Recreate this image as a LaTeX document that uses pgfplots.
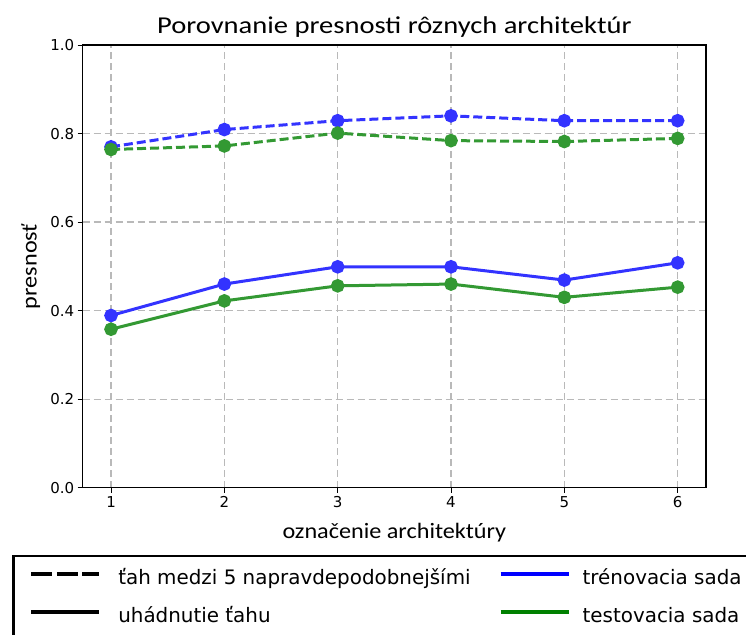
\documentclass[border=0pt]{standalone}
\usepackage{pgfplots}
\pgfplotsset{compat=1.18}
\usepackage{fontspec}
\setmainfont{DejaVu Sans}
\newfontfamily\labfont[FakeStretch=1.1]{Carlito}
\newfontfamily\titlefont[FakeStretch=1.18]{Carlito}
\definecolor{cblue}{RGB}{51,51,255}
\definecolor{cgreen}{RGB}{51,153,51}
\definecolor{cgrid}{RGB}{185,185,185}
\begin{document}
\begin{tikzpicture}
\path[use as bounding box] (0,0) rectangle (746bp,-635bp);
\clip (0,0) rectangle (746bp,-635bp);
\begin{axis}[
  at={(82.7bp,-487.7bp)}, anchor=south west,
  scale only axis, width=623.3bp, height=442.7bp,
  xmin=0.75, xmax=6.25, ymin=0, ymax=1,
  xtick={1,2,3,4,5,6}, ytick={0,0.2,0.4,0.6,0.8,1.0},
  yticklabel style={/pgf/number format/.cd,fixed,fixed zerofill,precision=1},
  /pgf/number format/assume math mode=true,
  tick align=outside, tick pos=left, major tick length=5bp,
  tick style={black, line width=1bp},
  grid=major, grid style={color=cgrid, line width=1.2bp, dash pattern=on 7bp off 4bp},
  axis line style={line width=1.2bp},
  ticklabel style={font=\fontsize{15bp}{18bp}\selectfont},
  every axis title shift=0pt,
  title={Porovnanie presnosti rôznych architektúr},
  title style={font=\titlefont\fontsize{24.2bp}{28bp}\selectfont, at={(axis description cs:0.5,1.0265)}, anchor=base, inner sep=0pt},
  xlabel={označenie architektúry},
  xlabel style={font=\labfont\fontsize{22bp}{26bp}\selectfont, at={(axis description cs:0.5,-0.1136)}, anchor=base, inner sep=0pt},
  ylabel={presnosť},
  ylabel style={font=\labfont\fontsize{22bp}{26bp}\selectfont, at={(axis description cs:-0.0738,0.5)}, anchor=base, inner sep=0pt},
  legend image code/.code={\draw[#1] (0bp,5.5bp) -- (68bp,5.5bp);},
  legend columns=2,
  legend cell align=left,
  legend style={at={(axis description cs:-0.1134,-0.152)}, anchor=north west,
    draw=black, line width=2.5bp, inner xsep=16bp, inner ysep=14.5bp,
    font=\fontsize{19.9bp}{23bp}\selectfont,
    nodes={inner sep=0bp, text height=14bp, text depth=4bp},
    row sep=20bp,
    /tikz/column 1/.style={column sep=17bp},
    /tikz/column 2/.style={column sep=28bp},
    /tikz/column 3/.style={column sep=12bp}},
]
\addlegendimage{black, line width=4bp, dash pattern=on 21bp off 4.5bp}
\addlegendentry{ťah medzi 5 napravdepodobnejšími}
\addlegendimage{blue, line width=4bp}
\addlegendentry{trénovacia sada}
\addlegendimage{black, line width=4bp}
\addlegendentry{uhádnutie ťahu}
\addlegendimage{black!50!green, line width=4bp}
\addlegendentry{testovacia sada}

\addplot[forget plot, cblue, line width=3bp, dash pattern=on 9bp off 4bp, mark=*, mark size=5.3bp, mark options={solid}]
  coordinates {(1,0.770)(2,0.809)(3,0.829)(4,0.840)(5,0.829)(6,0.829)};
\addplot[forget plot, cgreen, line width=3bp, dash pattern=on 9bp off 4bp, mark=*, mark size=5.3bp, mark options={solid}]
  coordinates {(1,0.764)(2,0.772)(3,0.801)(4,0.784)(5,0.782)(6,0.789)};
\addplot[forget plot, cblue, line width=3bp, mark=*, mark size=5.3bp]
  coordinates {(1,0.389)(2,0.460)(3,0.499)(4,0.499)(5,0.469)(6,0.508)};
\addplot[forget plot, cgreen, line width=3bp, mark=*, mark size=5.3bp]
  coordinates {(1,0.358)(2,0.422)(3,0.456)(4,0.460)(5,0.430)(6,0.453)};
\end{axis}
\end{tikzpicture}
\end{document}
